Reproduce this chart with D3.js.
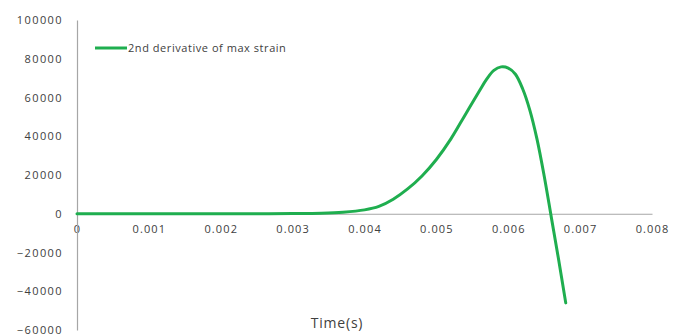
<!DOCTYPE html>
<html>
<head>
<meta charset="utf-8">
<script src="https://cdn.jsdelivr.net/npm/d3@7/dist/d3.min.js"></script>
<style>
  html, body { margin: 0; padding: 0; background: #fff; }
  svg { display: block; }
  text { font-family: "Open Sans", "DejaVu Sans", sans-serif; fill: #404040; }
</style>
</head>
<body>
<svg id="chart" width="687" height="336"></svg>
<script>
// Time samples (s) and the 2nd derivative of max strain at each sample
const times = [0, 0.0005, 0.001, 0.0015, 0.002, 0.0025, 0.003, 0.0034, 0.0037,
  0.0040, 0.0042, 0.0044, 0.0046, 0.0048, 0.0050, 0.0052, 0.0054, 0.0056,
  0.0057, 0.0058, 0.0059, 0.0060, 0.0061, 0.0062, 0.0063, 0.0064, 0.0065,
  0.0066, 0.0067, 0.0068];
const values = [0, 0, 0, 0, 0, 0, 100, 300, 800,
  2000, 3800, 7500, 12800, 19500, 28000, 38500, 51000, 63500,
  69500, 74000, 75800, 75200, 72000, 64500, 53500, 38500, 19500,
  -2000, -23500, -46000];

const xTicks = [0, 0.001, 0.002, 0.003, 0.004, 0.005, 0.006, 0.007, 0.008];
const xTickLabels = ["0", "0.001", "0.002", "0.003", "0.004", "0.005", "0.006", "0.007", "0.008"];
const yTicks = [100000, 80000, 60000, 40000, 20000, 0, -20000, -40000, -60000];
const seriesName = "2nd derivative of max strain";
const xTitle = "Time(s)";

const svg = d3.select("#chart");
const x = d3.scaleLinear().domain([0, 0.008]).range([77, 652]);
const y = d3.scaleLinear().domain([-60000, 100000]).range([330, 20]);

// Horizontal axis through zero
const xAxis = svg.append("g")
  .attr("transform", `translate(0,${y(0)})`)
  .call(d3.axisBottom(x).tickValues(xTicks).tickSize(0).tickPadding(11)
    .tickFormat((d, i) => xTickLabels[i]));
xAxis.select(".domain").attr("stroke", "#a6a6a6").attr("stroke-width", 1.2);
xAxis.selectAll("text")
  .style("font-family", "'Open Sans', sans-serif")
  .attr("font-size", 11).attr("letter-spacing", 1.1).attr("fill", "#3a3a3a");

// Vertical axis
const yAxis = svg.append("g")
  .attr("transform", `translate(${x(0)},0)`)
  .call(d3.axisLeft(y).tickValues(yTicks).tickSize(0).tickPadding(14)
    .tickFormat(d3.format("d")));
yAxis.select(".domain").attr("stroke", "#a6a6a6").attr("stroke-width", 1.2);
yAxis.selectAll("text")
  .style("font-family", "'Open Sans', sans-serif")
  .attr("font-size", 11).attr("letter-spacing", 1.4).attr("fill", "#3a3a3a");

// Series line
const pts = times.map((t, i) => [t, values[i]]);
svg.append("path")
  .datum(pts)
  .attr("fill", "none")
  .attr("stroke", "#1fae4f")
  .attr("stroke-width", 3)
  .attr("stroke-linecap", "round")
  .attr("d", d3.line().x(d => x(d[0])).y(d => y(d[1])).curve(d3.curveCatmullRom.alpha(0.5)));

// Legend
const leg = svg.append("g").attr("transform", "translate(95,48)");
leg.append("line").attr("x1", 0).attr("x2", 32).attr("y1", 0).attr("y2", 0)
  .attr("stroke", "#1fae4f").attr("stroke-width", 3);
leg.append("text").attr("x", 33).attr("y", 0).attr("dy", "0.35em")
  .attr("font-size", 11).attr("letter-spacing", 0.55).attr("fill", "#3a3a3a").text(seriesName);

// Axis title
svg.append("text")
  .attr("x", 337).attr("y", 323).attr("dy", "0.35em")
  .attr("text-anchor", "middle")
  .attr("font-size", 14).attr("letter-spacing", 0.8).attr("fill", "#3a3a3a")
  .text(xTitle);
</script>
</body>
</html>
